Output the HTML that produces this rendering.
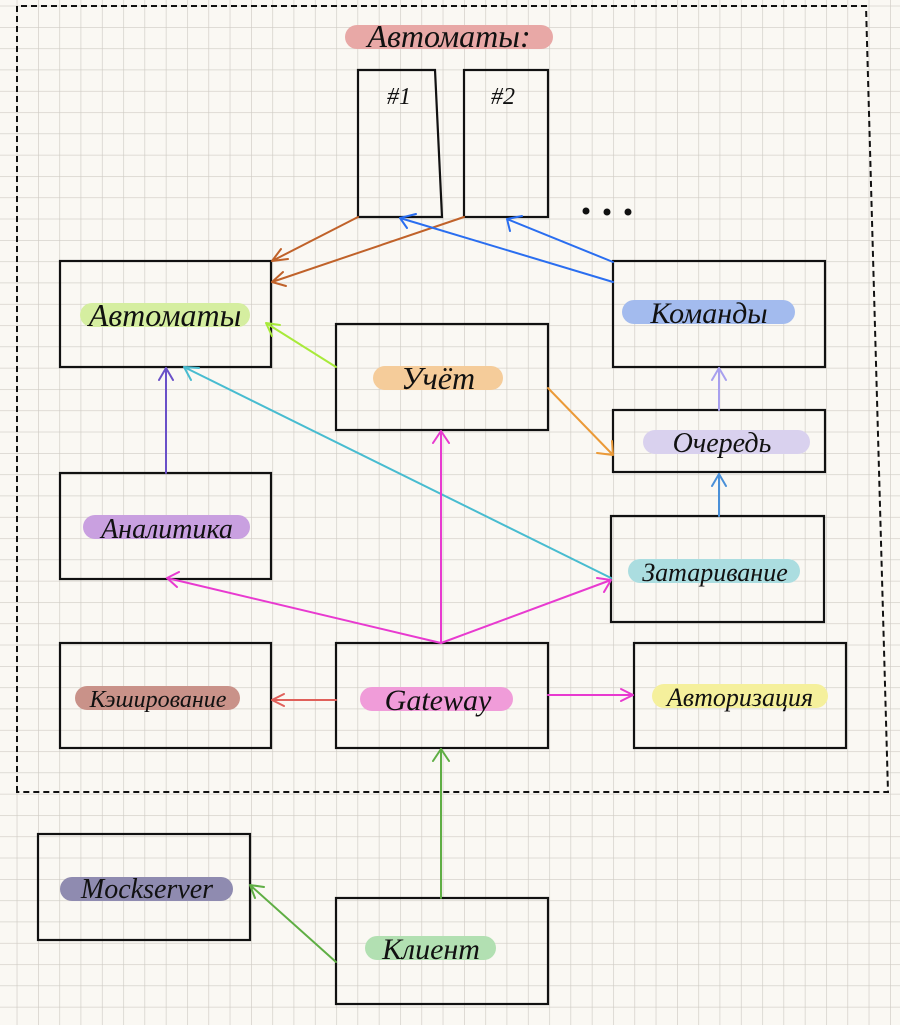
<!DOCTYPE html>
<html><head><meta charset="utf-8"><style>
html,body{margin:0;padding:0;background:#faf8f3;}
svg{display:block}
text{font-family:"Liberation Serif","DejaVu Serif",serif;font-style:italic;fill:#111;}
</style></head><body>
<svg width="900" height="1025" viewBox="0 0 900 1025" xmlns="http://www.w3.org/2000/svg">
<defs>
<pattern id="g" x="16.7" y="5.7" width="21.3" height="21.3" patternUnits="userSpaceOnUse">
<path d="M0 0H21.3M0 0V21.3" stroke="#cfcbc4" stroke-width="1.3" fill="none"/>
</pattern>
</defs>
<rect width="900" height="1025" fill="#faf8f3"/>
<rect width="900" height="1025" fill="url(#g)"/>
<!-- dashed frame -->
<path d="M17 792 V6 H866 L888 792 Z" fill="none" stroke="#111" stroke-width="2" stroke-dasharray="6,4"/>
<!-- highlights -->
<g stroke-linecap="round" stroke-width="24" fill="none">
<line x1="357" y1="37" x2="541" y2="37" stroke="#e8a8a6"/>
<line x1="92" y1="315" x2="238" y2="315" stroke="#d5eea0"/>
<line x1="385" y1="378" x2="491" y2="378" stroke="#f5cc9a"/>
<line x1="634" y1="312" x2="783" y2="312" stroke="#a3bbee"/>
<line x1="655" y1="442" x2="798" y2="442" stroke="#d9d1ee"/>
<line x1="95" y1="527" x2="238" y2="527" stroke="#c9a0e0"/>
<line x1="640" y1="571" x2="788" y2="571" stroke="#abdde0"/>
<line x1="87" y1="698" x2="228" y2="698" stroke="#c99289"/>
<line x1="372" y1="699" x2="501" y2="699" stroke="#f09cd9"/>
<line x1="664" y1="696" x2="816" y2="696" stroke="#f5f09c"/>
<line x1="72" y1="889" x2="221" y2="889" stroke="#8f8bb0"/>
<line x1="377" y1="948" x2="484" y2="948" stroke="#b2e0b2"/>
</g>
<!-- boxes -->
<g fill="none" stroke="#111" stroke-width="2.2">
<polygon points="358,70 435,70 442,217 358,217"/>
<rect x="464" y="70" width="84" height="147"/>
<rect x="60" y="261" width="211" height="106"/>
<rect x="336" y="324" width="212" height="106"/>
<rect x="613" y="261" width="212" height="106"/>
<rect x="613" y="410" width="212" height="62"/>
<rect x="60" y="473" width="211" height="106"/>
<rect x="611" y="516" width="213" height="106"/>
<rect x="60" y="643" width="211" height="105"/>
<rect x="336" y="643" width="212" height="105"/>
<rect x="634" y="643" width="212" height="105"/>
<rect x="38" y="834" width="212" height="106"/>
<rect x="336" y="898" width="212" height="106"/>
</g>
<circle cx="586" cy="211" r="3.5" fill="#111"/><circle cx="607" cy="212" r="3.5" fill="#111"/><circle cx="628" cy="212" r="3.5" fill="#111"/>
<!-- arrows -->
<g fill="none" stroke-width="2" stroke-linecap="round">
<g stroke="#c0622a"><path d="M358 217 L272 261 M272 261 l16 -2 M272 261 l9 -12"/><path d="M464 217 L272 282 M272 282 l14 4 M272 282 l11 -10"/></g>
<g stroke="#2a6ef0"><path d="M613 262 L507 219 M507 219 l15 -3 M507 219 l3 12"/><path d="M613 282 L400 218 M400 218 l16 -4 M400 218 l7 10"/></g>
<g stroke="#a8ea3a"><path d="M336 367 L266 323 M266 323 l6 13 M266 323 l14 2"/></g>
<g stroke="#eb9a38"><path d="M548 388 L613 455 M613 455 l-16 -2 M613 455 l-1 -14"/></g>
<g stroke="#a8a0ee"><path d="M719 410 V368 M719 368 l-7 12 M719 368 l7 12"/></g>
<g stroke="#4a90d8"><path d="M719 516 V474 M719 474 l-7 12 M719 474 l7 12"/></g>
<g stroke="#6a50c8"><path d="M166 473 V368 M166 368 l-7 12 M166 368 l7 12"/></g>
<g stroke="#48bcd0"><path d="M611 578 L184 367 M184 367 l7 13 M184 367 l15 1"/></g>
<g stroke="#e83ad0"><path d="M441 643 V431 M441 431 l-8 12 M441 431 l8 12"/><path d="M441 643 L167 578 M167 578 l12 -6 M167 578 l10 9"/><path d="M441 643 L611 580 M611 580 l-14 -2 M611 580 l-7 12"/><path d="M548 695 H633 M633 695 l-12 -6 M633 695 l-12 6"/></g>
<g stroke="#e0605a"><path d="M336 700 H272 M272 700 l12 -6 M272 700 l12 6"/></g>
<g stroke="#5fae44"><path d="M441 898 V749 M441 749 l-8 12 M441 749 l8 12"/><path d="M336 962 L250 885 M250 885 l5 13 M250 885 l14 2"/></g>
</g>
<!-- labels -->
<text x="449" y="47" font-size="32" text-anchor="middle">Автоматы:</text>
<text x="399" y="104" font-size="24" text-anchor="middle">#1</text>
<text x="503" y="104" font-size="24" text-anchor="middle">#2</text>
<text x="165" y="326" font-size="32" text-anchor="middle">Автоматы</text>
<text x="438" y="389" font-size="32" text-anchor="middle">Учёт</text>
<text x="709" y="323" font-size="30" text-anchor="middle">Команды</text>
<text x="722" y="452" font-size="28" text-anchor="middle">Очередь</text>
<text x="167" y="538" font-size="28" text-anchor="middle">Аналитика</text>
<text x="715" y="581" font-size="26" text-anchor="middle">Затаривание</text>
<text x="158" y="707" font-size="24" text-anchor="middle">Кэширование</text>
<text x="438" y="710" font-size="30" text-anchor="middle">Gateway</text>
<text x="740" y="706" font-size="26" text-anchor="middle">Авторизация</text>
<text x="147" y="898" font-size="28" text-anchor="middle">Mockserver</text>
<text x="431" y="959" font-size="30" text-anchor="middle">Клиент</text>
</svg>
</body></html>
